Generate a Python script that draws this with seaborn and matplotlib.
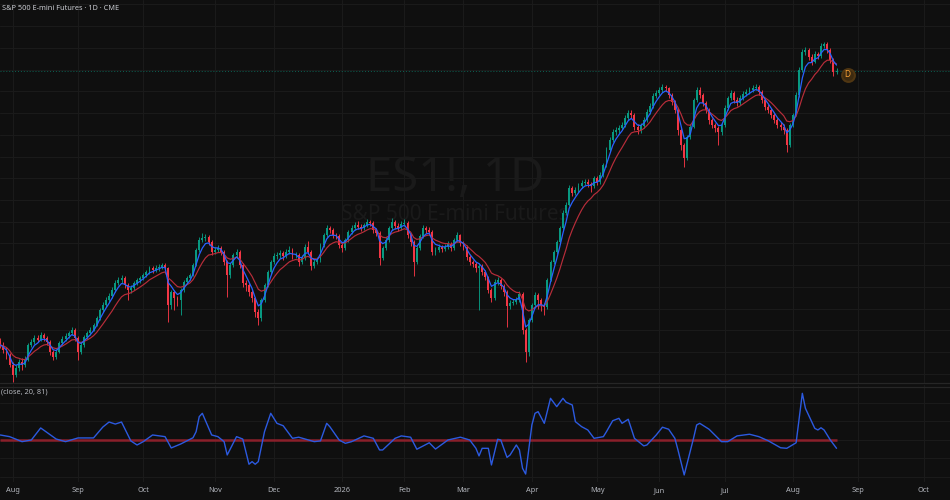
import numpy as np
import pandas as pd
import seaborn as sns
import matplotlib.pyplot as plt
from matplotlib.lines import Line2D

# daily ES1! candles, 2025-07-28 .. 2026-08-21
opens = [6150,6133,6110,6087,6041,5995,6027,6055,6041,6064,
         6133,6147,6165,6156,6179,6165,6147,6101,6078,6101,
         6142,6161,6174,6188,6202,6165,6101,6133,6170,6188,
         6202,6225,6257,6294,6317,6340,6358,6386,6418,6432,
         6441,6409,6386,6395,6418,6432,6441,6455,6469,6487,
         6478,6487,6492,6501,6487,6317,6377,6349,6340,6386,
         6423,6441,6455,6501,6570,6616,6625,6630,6607,6561,
         6570,6579,6561,6515,6455,6501,6547,6561,6501,6418,
         6409,6377,6349,6285,6257,6340,6409,6469,6515,6542,
         6547,6556,6542,6561,6570,6547,6547,6515,6533,6584,
         6561,6496,6515,6524,6593,6639,6671,6662,6639,6634,
         6593,6579,6616,6653,6671,6685,6676,6671,6685,6699,
         6694,6662,6648,6533,6579,6616,6671,6699,6680,6671,
         6690,6694,6639,6607,6515,6579,6634,6671,6662,6653,
         6561,6570,6584,6575,6584,6598,6579,6616,6639,6602,
         6584,6538,6515,6506,6487,6496,6469,6446,6386,6349,
         6423,6432,6404,6377,6312,6326,6331,6340,6368,6202,
         6101,6248,6317,6363,6340,6317,6308,6432,6515,6561,
         6607,6671,6740,6777,6855,6832,6846,6864,6878,6883,
         6874,6864,6901,6883,6915,6961,7030,7076,7113,7122,
         7131,7145,7177,7200,7191,7136,7122,7140,7168,7205,
         7232,7278,7292,7306,7320,7315,7283,7251,7214,7122,
         7053,6993,7090,7136,7260,7306,7283,7246,7214,7168,
         7145,7131,7113,7145,7223,7269,7292,7260,7246,7269,
         7288,7297,7306,7315,7320,7297,7260,7228,7214,7191,
         7168,7145,7136,7122,7053,7145,7191,7283,7398,7481,
         7490,7458,7435,7472,7462,7508,7518,7490,7444,7389]
highs = [6165,6145,6122,6096,6055,6040,6068,6072,6080,6142,
         6160,6178,6180,6192,6190,6174,6155,6112,6115,6150,
         6172,6186,6198,6215,6210,6172,6145,6180,6197,6214,
         6236,6268,6305,6330,6352,6370,6398,6430,6445,6455,
         6450,6418,6410,6428,6442,6452,6466,6480,6498,6496,
         6500,6505,6512,6510,6492,6388,6385,6360,6395,6432,
         6452,6465,6510,6580,6628,6650,6645,6640,6615,6585,
         6592,6590,6568,6522,6512,6558,6575,6568,6510,6430,
         6420,6388,6355,6298,6350,6420,6478,6525,6555,6562,
         6570,6565,6575,6588,6580,6562,6555,6548,6596,6610,
         6568,6530,6538,6602,6650,6685,6680,6672,6650,6645,
         6602,6625,6662,6684,6698,6702,6690,6695,6712,6708,
         6702,6670,6655,6590,6628,6682,6715,6710,6692,6705,
         6712,6702,6648,6615,6590,6645,6685,6680,6675,6660,
         6585,6598,6592,6596,6610,6606,6625,6652,6645,6610,
         6592,6548,6525,6515,6508,6505,6478,6452,6395,6435,
         6445,6440,6412,6385,6340,6345,6352,6380,6375,6210,
         6258,6328,6375,6372,6350,6328,6442,6525,6572,6618,
         6682,6752,6790,6868,6865,6860,6876,6890,6898,6895,
         6885,6912,6910,6928,6972,7042,7088,7125,7136,7145,
         7158,7190,7215,7212,7198,7148,7155,7180,7218,7245,
         7290,7305,7320,7335,7330,7322,7290,7260,7222,7130,
         7062,7100,7148,7270,7320,7318,7292,7255,7222,7178,
         7155,7140,7155,7235,7280,7305,7300,7272,7282,7300,
         7312,7318,7328,7335,7330,7305,7268,7240,7222,7200,
         7178,7158,7148,7130,7155,7202,7295,7410,7495,7505,
         7498,7470,7485,7480,7520,7527,7525,7498,7452,7408]
lows = [6120,6098,6070,6030,5963,5985,6015,6020,6032,6058,
        6125,6138,6145,6150,6152,6132,6085,6064,6070,6095,
        6135,6150,6165,6180,6150,6064,6092,6125,6160,6180,
        6195,6218,6250,6285,6308,6330,6350,6378,6408,6420,
        6395,6340,6370,6385,6410,6420,6432,6446,6460,6465,
        6470,6475,6484,6476,6239,6300,6294,6310,6270,6375,
        6415,6430,6448,6495,6562,6605,6610,6595,6545,6550,
        6560,6548,6500,6354,6440,6492,6535,6488,6400,6380,
        6360,6330,6262,6225,6245,6332,6400,6460,6505,6528,
        6535,6525,6532,6550,6530,6532,6498,6505,6525,6550,
        6480,6485,6505,6515,6585,6630,6648,6625,6620,6580,
        6560,6570,6605,6645,6660,6665,6658,6662,6676,6682,
        6650,6635,6501,6525,6570,6608,6662,6668,6655,6662,
        6680,6625,6590,6450,6505,6570,6625,6648,6640,6545,
        6548,6560,6562,6565,6575,6565,6570,6605,6590,6570,
        6525,6500,6490,6470,6294,6455,6430,6370,6330,6340,
        6410,6390,6360,6216,6298,6315,6320,6330,6185,6055,
        6080,6238,6305,6300,6290,6270,6300,6425,6505,6552,
        6598,6662,6730,6770,6820,6822,6838,6855,6868,6862,
        6835,6855,6870,6875,6905,6952,7020,7065,7100,7110,
        7120,7135,7168,7178,7120,7105,7110,7130,7160,7195,
        7225,7268,7285,7298,7300,7270,7238,7198,7100,7030,
        6952,6985,7080,7130,7250,7270,7232,7200,7150,7130,
        7115,7053,7100,7138,7215,7260,7248,7232,7238,7260,
        7278,7288,7296,7305,7285,7248,7215,7200,7176,7152,
        7130,7120,7105,7021,7045,7138,7185,7275,7390,7468,
        7445,7422,7428,7450,7455,7500,7478,7430,7370,7378]
closes = [6133,6110,6087,6041,5995,6027,6055,6041,6064,6133,
          6147,6165,6156,6179,6165,6147,6101,6078,6101,6142,
          6161,6174,6188,6202,6165,6101,6133,6170,6188,6202,
          6225,6257,6294,6317,6340,6358,6386,6418,6432,6441,
          6409,6386,6395,6418,6432,6441,6455,6469,6487,6478,
          6487,6492,6501,6487,6317,6377,6349,6340,6386,6423,
          6441,6455,6501,6570,6616,6625,6630,6607,6561,6570,
          6579,6561,6515,6455,6501,6547,6561,6501,6418,6409,
          6377,6349,6285,6257,6340,6409,6469,6515,6542,6547,
          6556,6542,6561,6570,6547,6547,6515,6533,6584,6561,
          6496,6515,6524,6593,6639,6671,6662,6639,6634,6593,
          6579,6616,6653,6671,6685,6676,6671,6685,6699,6694,
          6662,6648,6533,6579,6616,6671,6699,6680,6671,6690,
          6694,6639,6607,6515,6579,6634,6671,6662,6653,6561,
          6570,6584,6575,6584,6598,6579,6616,6639,6602,6584,
          6538,6515,6506,6487,6496,6469,6446,6386,6349,6423,
          6432,6404,6377,6312,6326,6331,6340,6368,6202,6101,
          6248,6317,6363,6340,6317,6308,6432,6515,6561,6607,
          6671,6740,6777,6855,6832,6846,6864,6878,6883,6874,
          6864,6901,6883,6915,6961,7030,7076,7113,7122,7131,
          7145,7177,7200,7191,7136,7122,7140,7168,7205,7232,
          7278,7292,7306,7320,7315,7283,7251,7214,7122,7053,
          6993,7090,7136,7260,7306,7283,7246,7214,7168,7145,
          7131,7113,7145,7223,7269,7292,7260,7246,7269,7288,
          7297,7306,7315,7320,7297,7260,7228,7214,7191,7168,
          7145,7136,7122,7053,7145,7191,7283,7398,7481,7490,
          7458,7435,7472,7462,7508,7518,7490,7444,7389,7393]

# lower pane oscillator, sampled at these bars
osc_bar = [0,3,7,10,13,18,21,25,30,33,35,37,39,42,44,46,49,53,55,58,
           62,63,64,65,68,70,72,73,76,78,80,81,82,83,85,87,89,91,94,96,
           101,103,105,106,109,111,113,117,120,122,123,127,129,132,134,138,140,144,148,151,
           153,154,155,157,158,160,161,163,164,166,167,168,169,171,172,173,175,177,179,181,
           182,184,185,187,189,191,194,195,197,199,200,202,204,207,208,211,213,215,217,218,
           220,223,224,225,228,232,234,237,241,244,247,251,253,256,258,259,260,262,263,264,
           265,267,269]
osc_val = [0.27,0.18,-0.09,0.0,0.65,0.05,-0.09,0.11,0.11,0.70,0.97,0.86,0.97,-0.05,-0.27,-0.09,0.27,0.18,-0.43,-0.22,
           0.12,0.45,1.26,1.44,0.27,0.18,-0.09,-0.81,0.18,0.05,-1.31,-1.17,-1.31,-1.17,0.45,1.44,0.90,0.77,0.09,0.15,
           -0.09,-0.05,0.90,0.72,0.0,-0.18,-0.09,0.22,0.09,-0.54,-0.54,0.09,0.22,0.15,-0.50,-0.15,-0.49,0.0,0.15,0.0,
           -0.45,-0.86,-0.45,-0.45,-1.35,0.04,0.0,-0.94,-0.81,-0.27,-0.54,-1.53,-1.84,0.81,1.44,1.53,0.90,2.25,1.80,2.25,
           2.04,1.89,0.99,0.72,0.54,0.09,0.18,0.45,1.04,1.17,0.90,1.12,0.09,-0.32,-0.27,0.27,0.69,0.58,0.09,-0.54,
           -1.89,0.09,0.81,0.90,0.58,-0.09,-0.09,0.22,0.31,0.18,-0.04,-0.42,-0.45,-0.15,2.52,1.71,1.35,0.63,0.54,0.66,
           0.54,0.0,-0.45]

holidays = ['2025-09-01', '2025-11-27', '2025-12-25', '2026-01-01', '2026-01-19',
            '2026-02-16', '2026-04-03', '2026-05-25', '2026-06-19', '2026-07-03', '2026-09-07']

BG = '#0f0f0f'
GRID = '#1a1a1a'
UP = '#089981'
DOWN = '#f23645'

sns.set_theme(style='dark', rc={'axes.facecolor': BG, 'figure.facecolor': BG,
                                'savefig.facecolor': BG})
plt.rcParams['font.family'] = ['Noto Sans', 'DejaVu Sans']

dates = pd.bdate_range('2025-07-28', '2026-10-30')
dates = dates[~dates.isin(pd.to_datetime(holidays))]

df = pd.DataFrame({'open': opens, 'high': highs, 'low': lows, 'close': closes})
df['bar'] = np.arange(len(df))
df['date'] = dates[:len(df)]
df['fast'] = df['close'].ewm(span=4, adjust=False).mean()
df['slow'] = df['close'].ewm(span=10, adjust=False).mean()

# month ticks (also into the empty future area)
tick_pos, tick_lab = [], []
for i in range(1, len(dates)):
    if dates[i].month != dates[i - 1].month:
        tick_pos.append(i)
        tick_lab.append(str(dates[i].year) if dates[i].month == 1 else dates[i].strftime('%b'))

fig = plt.figure(figsize=(9.5, 5), dpi=100)
ax = fig.add_axes([0, 0.234, 1, 0.766])
ax2 = fig.add_axes([0, 0.036, 1, 0.194])

xlim = (-0.085, 305.5)

# candles
up = df['close'] >= df['open']
colors = np.where(up, UP, DOWN)
body_lo = df[['open', 'close']].min(axis=1)
body_h = (df['close'] - df['open']).abs().clip(lower=3)
ax.vlines(df['bar'], df['low'], df['high'], colors=colors, lw=0.65, zorder=3)
ax.bar(df['bar'], body_h, bottom=body_lo, width=0.62, color=colors, linewidth=0, zorder=4)

sns.lineplot(data=df, x='bar', y='slow', ax=ax, color='#b82d3a', lw=0.85, zorder=5)
sns.lineplot(data=df, x='bar', y='fast', ax=ax, color='#2962ff', lw=0.9, zorder=6)

last = df.iloc[-1]
ax.axhline(last['close'], color=UP, lw=0.7, ls=(0, (1, 2)), alpha=0.6, zorder=2)
ax.scatter([last['bar'] + 3.6], [last['close'] - 16], s=85, color='#3d2a10',
           edgecolors='#503612', linewidths=1.5, zorder=7)
ax.text(last['bar'] + 3.6, last['close'] - 16, 'D', color='#f7a035', fontsize=6,
        fontweight='bold', ha='center', va='center', zorder=8)

# watermark
ax.text(0.479, 0.535, 'ES1!, 1D', transform=ax.transAxes, fontsize=34,
        color='#1a1a1a', ha='center', va='center', zorder=1)
ax.text(0.479, 0.439, 'S&P 500 E-mini Futures', transform=ax.transAxes, fontsize=15,
        color='#1a1a1a', ha='center', va='center', zorder=1)

ax.set_xlim(*xlim)
ax.set_ylim(5958, 7720)
ax.set_xticks(tick_pos)
ax.set_yticks(np.arange(6000, 7800, 100))
ax.grid(True, color=GRID, lw=0.8)
ax.tick_params(length=0, labelbottom=False, labelleft=False)
ax.set_xlabel('')
ax.set_ylabel('')

# oscillator pane
sns.lineplot(x=osc_bar, y=osc_val, ax=ax2, color='#2c5ae0', lw=1.0, zorder=4)
ax2.hlines(0, 0, len(df) - 1, color='#8a1f2a', lw=1.8, zorder=3)
ax2.set_xlim(*xlim)
ax2.set_ylim(-2.27, 2.97)
ax2.set_yticks([-2, -1, 0, 1, 2])
ax2.set_xticks(tick_pos)
ax2.set_xticklabels(tick_lab)
ax2.grid(True, color=GRID, lw=0.8)
ax2.tick_params(axis='x', length=0, pad=3.5, labelsize=5.3, labelcolor='#b2b5bc')
ax2.tick_params(axis='y', length=0, labelleft=False)

for a in (ax, ax2):
    for s in a.spines.values():
        s.set_visible(False)

for yy in (0.234, 0.226):
    fig.add_artist(Line2D([0, 1], [yy, yy], transform=fig.transFigure, color='#262626', lw=0.9))

fig.text(2 / 950, 1 - 9 / 500, 'S&P 500 E-mini Futures · 1D · CME', color='#c9cbd1',
         fontsize=5.3, ha='left', va='center')
fig.text(1 / 950, 1 - 392 / 500, '(close, 20, 81)', color='#b4b6bc',
         fontsize=5.3, ha='left', va='center')

plt.savefig('out.png', dpi=100)
